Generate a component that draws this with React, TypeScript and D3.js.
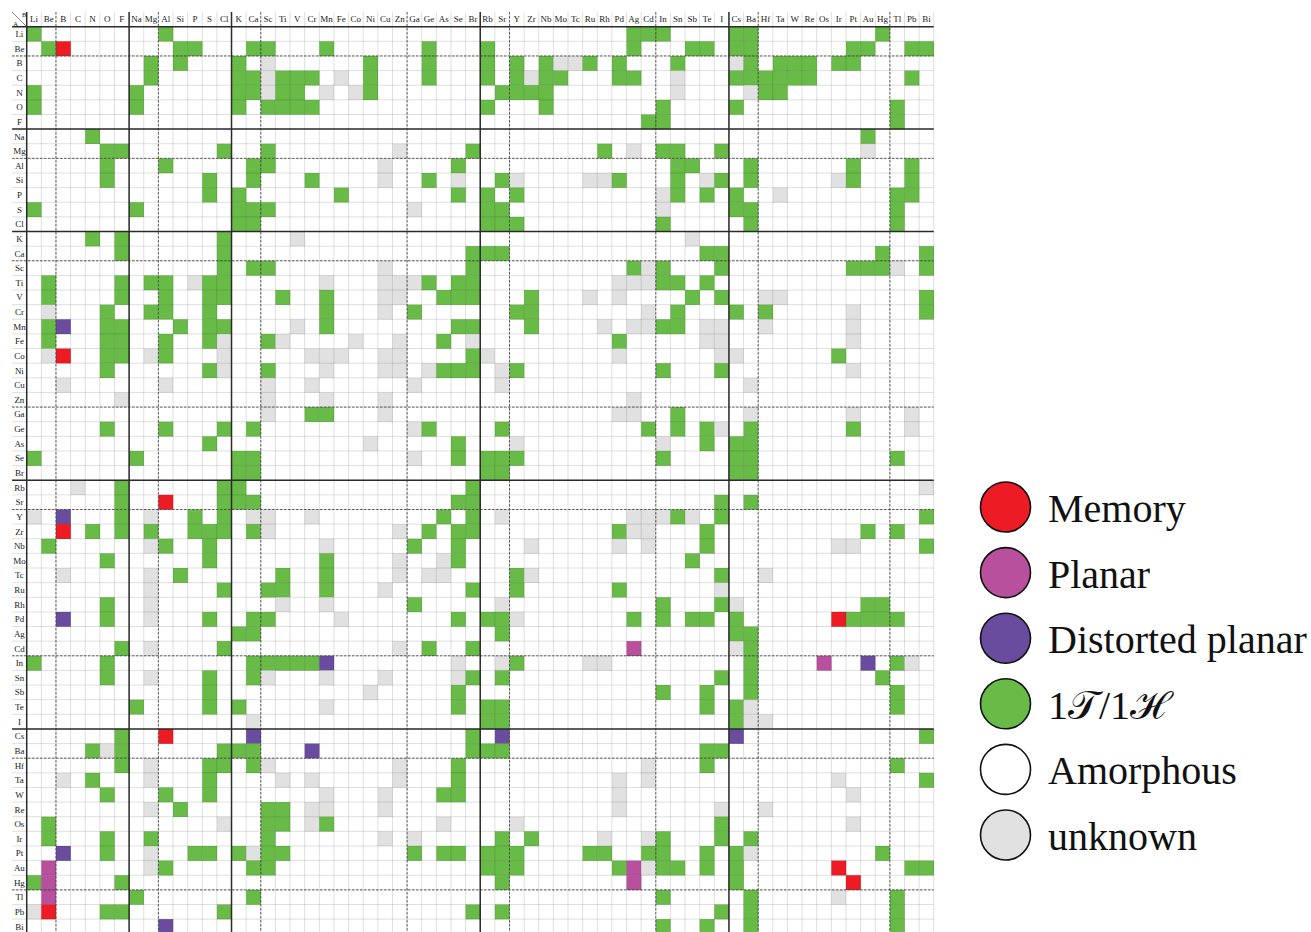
import React, { useEffect, useRef } from "react";
import * as d3 from "d3";

// elements on both axes (A = rows, B = columns)
const elements = [
    "Li", "Be", "B", "C", "N", "O", "F",
    "Na", "Mg", "Al", "Si", "P", "S", "Cl",
    "K", "Ca", "Sc", "Ti", "V", "Cr", "Mn", "Fe", "Co", "Ni", "Cu", "Zn", "Ga", "Ge", "As", "Se", "Br",
    "Rb", "Sr", "Y", "Zr", "Nb", "Mo", "Tc", "Ru", "Rh", "Pd", "Ag", "Cd", "In", "Sn", "Sb", "Te", "I",
    "Cs", "Ba", "Hf", "Ta", "W", "Re", "Os", "Ir", "Pt", "Au", "Hg", "Tl", "Pb", "Bi",
];

// first element of each period (solid line) and of each sub block (dashed line)
const majorBreaks = ["Na", "K", "Rb", "Cs"];
const minorBreaks = ["B", "Al", "Sc", "Ga", "Y", "In", "Hf", "Tl"];

const phaseKeys = ["r", "p", "d", "g", ".", "u"];
const phaseLabels = ["Memory", "Planar", "Distorted planar", "1\u{1D4AF}/1\u210B", "Amorphous", "unknown"];
const phaseColors = ["#ed1c24", "#b8509d", "#6a4c9f", "#68bb47", "#ffffff", "#e1e1e1"];

// one string per A element, one char per B element (same order as `elements`)
// spaces only split the blocks so the columns are easier to count
const phaseRows = [
    "g. ..... .. g.... .. .......... ..... .. ........gg g.... gg ........g ...",
    ".g r.... .. .gg.. .g g...g..... .g... g. ........g. ..gg. gg ......gg. .gg",
    ".. ..... .g .g... g. u......g.. .g... g. g.guug.g.. .g... ug .ggg.gg.. ...",
    ".. ..... .g ..... gg uggg.u.g.. .g... g. gugg...gg. .u... gg gggg..... .g.",
    "g. ..... g. ..... gg ugg.u.ug.. ..... .g ggg....... .u... .u gg....... ...",
    "g. ..... g. ..... g. gggg...... ..... g. ..g....... g.... g. ......... g..",
    ".. ..... .. ..... .. .......... ..... .. .........g g.... .. ......... g..",
    ".. ..g.. .. ..... .. .......... ..... .. .......... ..... .. .......g. ...",
    ".. ...gg .. ....g .. g........u ....g .. ......g.u. gg..g .. .......u. ...",
    ".. ...g. .. g.... .g g.......u. ...g. .. .......... .gg.. .g ......g.. .g.",
    ".. ...g. .. ...g. .g ...g....u. .g.u. .g u....uug.. .g.ug .g .....ug.. .g.",
    ".. ..... .. ...g. g. .....g.... ...g. g. g......... ug.g. g. .u....... gg.",
    "g. ..... g. ..... gg g......... u.... gg .......... u.... gg ......... g..",
    ".. ..... .. ..... gg .......... ..... gg g......... g.... .g ......... g..",
    ".. ..g.g .. ....g .. ..u....... ..... .. .......... ..u.. .. ......... ...",
    ".. ....g .. ....g .. .......... ....g gg .......... ...gg .. ........g ..g",
    ".. ..... .. ....g .g g.......u. ....g .. ........gu g...g .. ......ggg u.g",
    ".g ....g .g g.ugg .. ....u...uu ug.gg .. .......uuu gg.g. .. ......... ...",
    ".g ....g .. g..gg .. .g..g...uu ..ggg .. .g...u.u.. ..g.g .. uu....... ..g",
    ".u ...g. .g g..g. .. ....g...u. g.... .. gg.......u .g... g. g.....u.. ..g",
    ".g d..gg .. .g.gg .. ..u.g..... ...gg .. .g....u.uu gg.uu .. u.....u.. ...",
    ".g ...gg .. g..gu .. gu....u..u ..g.u .. .......g.. ...uu .. ......u.. ...",
    ".u r..gg .u g...u .. ...uuu..uu ....g u. .......u.. ....u u. .....g... ...",
    ".. ...g. .. ...gu .. g...u...uu .uggg .u g......... g...g .. ......u.. ...",
    ".. u.... .. u.... .. u..u...... u.... .u .......... ..... .u ......... ...",
    ".. ....u .. ..... .. u...u...u. ..... .. ........u. ..... .. ......... ...",
    ".. ..... .. ..... .. u..gg...u. ..... .. .......uu. .g... .u ......u.. .u.",
    ".. ...g. .. g...g .g .......... ug... .g .........g .g.gu .g ......g.. .u.",
    ".. ..... .. ...g. .. .......u.. ...g. .. u......... u..g. gg ......... ...",
    "g. ..... g. ..... gg .......... u..g. gg g......... g.... gg ......... g..",
    ".. ..... .. ..... gg .......... ..... gg .......... ..... gg ......... ...",
    ".. .u..g .. ....g g. .......... ....g .. .......... ..... .. ......... ..u",
    ".. ....g .. r...g gg .......... ...gg .. .......... ....g .g ......... ...",
    "u. d...g .u ..g.g .u u..u...... ..g.g .u ........uu ugu.g .. ......... ..g",
    ".. r.g.g .g ..ggg .g u........u .g.gg .. .......guu ...g. .. .......g. g..",
    ".g ..... .u g..g. .. ....u..... g..g. .. .u.....u.u ...g. .. .....uu.. ..g",
    ".. ...g. .. ...g. .. ....g....u ..ug. .. .......... ..g.. .. ......... ...",
    ".. u.... .u .g... .. .g..g....u .uu.. .. gu........ ....g .. u........ ...",
    ".. ..... .u ....g .. gg..g...u. ....g .. g......g.. ....u .. ......... ...",
    ".. ...g. .u ..... .. .u..u..... g.... .u .......... g...g u. .......gg ...",
    ".. d..g. .u ...g. .g g....u.... ...g. gg u.......g. g.gg. g. .....rggg g..",
    ".. ..... .. ..... gg .......... ..... .g .......... ..... gg ......... ...",
    ".. ....g .u ....g .. .........u .g..g .. ........p. ..... ug ......... ...",
    "g. ...g. .. ..... .g ggggd..... ...u. .u g....uu... ..... .g ....p..d. gu.",
    ".. ...g. .u ...g. .g u...u...u. ...ug .g .......... ....g .g ........g ...",
    ".. ..... .. ...g. .. .......u.. ...g. .. .......... g..g. .g ......... g..",
    ".. ..... g. ...g. g. ....u..... ...g. gg .......... ...g. gu ......... g..",
    ".. ..... .. ..... .u .......... ..... gg .......... ..... gu u........ ...",
    ".. ....g .. r.... .d .......... ....g .d .......... ..... d. ......... ..g",
    ".. ..gug .. ....g gg ...d...... ....g gg .......... ...gg .. ......... ...",
    ".. ....g .u ...gg .g u........u ...g. .. .........u ...g. .. ......... g..",
    ".. u.g.. .u ...g. .. .u.u.....u ...g. .. .......u.u ..... .. .....u... ..g",
    ".. ...g. .. g..g. .. ....u...u. ..gg. .. .......u.. ..... .. ......u.. ...",
    ".. ..... .u .g... .. gg.uu...u. ..... .. .......u.. ....u .. u........ ...",
    ".g ..... .. ....u .. gg.ug..... ..u.. .. u......... ....g .. ......u.. ...",
    ".g ...g. .g ..... .. g.......u. u.... .g .g....u..u g...g .g ......... ...",
    ".. d..g. .u ..gg. gu gg........ g.gg. gg g....gg..g g..g. gu ........g ...",
    ".p ..... .u g.... .g g......... ..... gg g......gpu gg.g. g. .....r... .gg",
    "gp ....g .. ..... .. .......... ..... .g ........p. ..... g. ......r.. ...",
    ".p ..... g. ..... .g .......... ..... .. .......... g.... .g .....u... g..",
    "ur ...gg .. ....g .. .......... ....g .g .......... ....g .g ......... g..",
    ".. ..... .. d.... .. .......... ..... .. .......... g..g. .g ......... g..",
];

const WIDTH = 1311;
const HEIGHT = 932;
const CELL = 14.63;
const GX = 26.7; // left edge of the grid (labels sit one cell to the left)
const GY = 26.7; // top edge of the grid (labels sit one cell above)
const serif = "'Liberation Serif', 'Times New Roman', serif";

const PhaseMap: React.FC = () => {
    const svgRef = useRef<SVGSVGElement>(null);

    useEffect(() => {
        if (!svgRef.current) return;
        const svg = d3.select(svgRef.current);
        svg.selectAll("*").remove();

        const n = elements.length;
        const x = d3.scaleBand<string>().domain(elements).range([GX, GX + n * CELL]);
        const y = d3.scaleBand<string>().domain(elements).range([GY, GY + n * CELL]);
        const color = d3.scaleOrdinal<string, string>().domain(phaseKeys).range(phaseColors);

        const cells = phaseRows.flatMap((row, i) => {
            const codes = row.replace(/ /g, "");
            return elements.map((b, j) => ({ a: elements[i], b, k: codes[j] || "." }));
        });

        svg.append("rect").attr("width", WIDTH).attr("height", HEIGHT).attr("fill", "#fff");

        // cells
        svg.append("g")
            .selectAll("rect")
            .data(cells.filter((d) => d.k !== "."))
            .enter()
            .append("rect")
            .attr("x", (d) => x(d.b)!)
            .attr("y", (d) => y(d.a)!)
            .attr("width", x.bandwidth() + 0.2)
            .attr("height", y.bandwidth() + 0.2)
            .attr("fill", (d) => color(d.k));

        const xEnd = GX + n * CELL;
        const yEnd = GY + n * CELL;

        // light grid over everything, labels included
        const grid = svg.append("g").attr("stroke", "#000").attr("stroke-opacity", 0.16).attr("stroke-width", 0.8);
        d3.range(n + 1).forEach((i) => {
            const px = GX + i * CELL;
            grid.append("line").attr("x1", px).attr("x2", px).attr("y1", GY - CELL).attr("y2", yEnd);
            grid.append("line").attr("y1", px).attr("y2", px).attr("x1", GX - CELL).attr("x2", xEnd);
        });

        // dashed sub block lines
        const dash = svg.append("g").attr("stroke", "#4a4a4a").attr("stroke-width", 0.9).attr("stroke-dasharray", "2.4,1.6");
        minorBreaks.forEach((e) => {
            dash.append("line").attr("x1", x(e)!).attr("x2", x(e)!).attr("y1", GY - CELL).attr("y2", yEnd);
            dash.append("line").attr("y1", y(e)!).attr("y2", y(e)!).attr("x1", GX - CELL).attr("x2", xEnd);
        });

        // solid period lines (plus the frame under the header and right of the labels)
        const solid = svg.append("g").attr("stroke", "#2b2b2b").attr("stroke-width", 1.5);
        ["Li", ...majorBreaks].forEach((e) => {
            solid.append("line").attr("x1", x(e)!).attr("x2", x(e)!).attr("y1", GY - CELL).attr("y2", yEnd);
            solid.append("line").attr("y1", y(e)!).attr("y2", y(e)!).attr("x1", GX - CELL).attr("x2", xEnd);
        });

        // column labels (B)
        svg.append("g")
            .selectAll("text")
            .data(elements)
            .enter()
            .append("text")
            .attr("x", (d) => x(d)! + x.bandwidth() / 2)
            .attr("y", GY - CELL / 2 + 3.1)
            .attr("text-anchor", "middle")
            .attr("font-family", serif)
            .attr("font-size", 9)
            .attr("fill", "#222")
            .text((d) => d);

        // row labels (A)
        svg.append("g")
            .selectAll("text")
            .data(elements)
            .enter()
            .append("text")
            .attr("x", GX - CELL / 2)
            .attr("y", (d) => y(d)! + y.bandwidth() / 2 + 3.1)
            .attr("text-anchor", "middle")
            .attr("font-family", serif)
            .attr("font-size", 9)
            .attr("fill", "#222")
            .text((d) => d);

        // corner cell
        svg.append("line")
            .attr("x1", GX - CELL).attr("y1", GY - CELL)
            .attr("x2", GX).attr("y2", GY)
            .attr("stroke", "#555").attr("stroke-width", 0.7);
        svg.append("text").attr("x", GX - CELL + 1.2).attr("y", GY - 1.2)
            .attr("font-family", serif).attr("font-size", 6.5).attr("fill", "#222").text("A");
        svg.append("text").attr("x", GX - 4.8).attr("y", GY - CELL + 5.2)
            .attr("font-family", serif).attr("font-size", 6.5).attr("fill", "#222").text("B");

        // legend
        const legend = svg.append("g");
        phaseLabels.forEach((label, i) => {
            const cy = 507 + i * 65.6;
            legend.append("circle")
                .attr("cx", 1005.5).attr("cy", cy).attr("r", 25)
                .attr("fill", phaseColors[i])
                .attr("stroke", "#111").attr("stroke-width", 1.6);
            legend.append("text")
                .attr("x", 1048).attr("y", cy + 15)
                .attr("font-family", serif)
                .attr("font-size", 40)
                .attr("fill", "#111")
                .text(label);
        });
    }, []);

    return (
        <svg
            ref={svgRef}
            width={WIDTH}
            height={HEIGHT}
            style={{ position: "absolute", left: 0, top: 0, display: "block" }}
        />
    );
};

export default function App() {
    return <PhaseMap />;
}
